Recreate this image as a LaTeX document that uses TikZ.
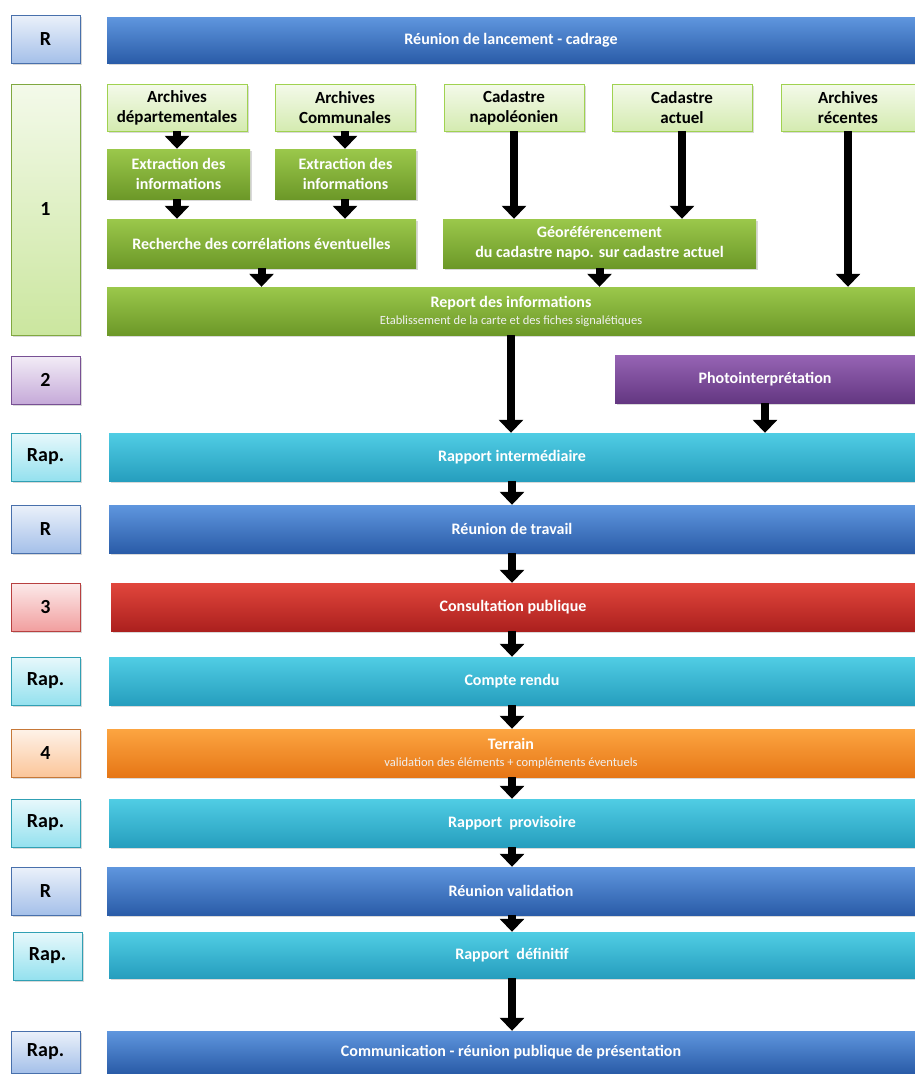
\documentclass[tikz,border=0pt]{standalone}
\usepackage{fontspec}
\setmainfont{Carlito}
\definecolor{bluetop}{RGB}{95,150,222}
\definecolor{bluebot}{RGB}{42,92,168}
\definecolor{tealtop}{RGB}{80,205,228}
\definecolor{tealbot}{RGB}{38,158,190}
\definecolor{greentop}{RGB}{155,200,75}
\definecolor{greenbot}{RGB}{108,152,40}
\definecolor{purpletop}{RGB}{150,100,180}
\definecolor{purplebot}{RGB}{100,55,130}
\definecolor{redtop}{RGB}{225,70,60}
\definecolor{redbot}{RGB}{172,32,30}
\definecolor{orangetop}{RGB}{252,165,65}
\definecolor{orangebot}{RGB}{230,118,22}
\definecolor{lblblue}{RGB}{90,140,215}
\definecolor{lblgreen}{RGB}{160,210,80}
\definecolor{lblviolet}{RGB}{150,100,185}
\definecolor{lblcyan}{RGB}{60,200,225}
\definecolor{lblred}{RGB}{230,80,80}
\definecolor{lblorange}{RGB}{248,150,70}
\usetikzlibrary{arrows.meta, shadows}
\newcommand{\subtxt}[1]{{\normalfont\fontsize{12.5}{14}\selectfont\color{white!88!gray}#1}}

\begin{document}
\begin{tikzpicture}[x=1pt, y=-1pt,
    box/.style={rectangle, inner sep=0pt, align=center, font=\bfseries\fontsize{16}{20}\selectfont,
                text=white, drop shadow={opacity=0.3, shadow xshift=1.5pt, shadow yshift=-1.5pt}},
    bar/.style={box, minimum width=806pt, minimum height=48pt},
    lbl/.style={box, text=black, minimum width=69pt, minimum height=48pt,
                font=\bfseries\fontsize{20}{24}\selectfont, draw=#1!80!black, line width=0.6pt,
                top color=#1!12, bottom color=#1!55},
    blubar/.style={bar, top color=bluetop, bottom color=bluebot},
    tealbar/.style={bar, top color=tealtop, bottom color=tealbot},
    grnbox/.style={box, top color=greentop, bottom color=greenbot},
    srcbox/.style={box, text=black, minimum width=140pt, minimum height=47pt,
                   font=\bfseries\fontsize{17}{20}\selectfont, draw=lblgreen, line width=0.4pt,
                   top color=lblgreen!12, bottom color=lblgreen!45},
    bigarrow/.style={-{Triangle[width=24pt, length=13pt]}, line width=8pt, black}]

    \useasboundingbox (0,0) rectangle (915,1074);

    % Labels on the left
    \node[lbl=lblblue] (lr1) at (45.5,39) {R};
    \node[lbl=lblgreen, minimum height=251pt] (l1) at (45.5,209.5) {1};
    \node[lbl=lblviolet] (l2) at (45.5,380) {2};
    \node[lbl=lblcyan] (lrap1) at (45.5,457) {Rap.};
    \node[lbl=lblblue] (lr2) at (45.5,529) {R};
    \node[lbl=lblred] (l3) at (45.5,607) {3};
    \node[lbl=lblorange] (l4) at (45.5,753) {4};
    \node[lbl=lblcyan] (lrap2) at (45.5,681) {Rap.};
    \node[lbl=lblcyan] (lrap3) at (45.5,823) {Rap.};
    \node[lbl=lblblue] (lr3) at (45.5,891) {R};
    \node[lbl=lblcyan] (lrap4) at (47.5,956) {Rap.};
    \node[lbl=lblblue, minimum height=42pt] (lrap5) at (45.5,1052) {Rap.};

    % Kick-off
    \node[blubar, minimum width=808pt, minimum height=46pt] (lanc) at (511,40) {Réunion de lancement - cadrage};

    % Phase 1 sources
    \node[srcbox] (adep) at (177,107.5) {Archives\\départementales};
    \node[srcbox] (acom) at (345,107.5) {Archives\\Communales};
    \node[srcbox] (cnap) at (514,107.5) {Cadastre\\napoléonien};
    \node[srcbox] (cact) at (682,107.5) {Cadastre\\actuel};
    \node[srcbox, minimum width=134pt] (arec) at (848,107.5) {Archives\\récentes};

    % Phase 1 processing
    \node[grnbox, minimum width=143pt, minimum height=50pt] (ext1) at (178.5,174) {Extraction des\\informations};
    \node[grnbox, minimum width=141pt, minimum height=50pt] (ext2) at (345.5,174) {Extraction des\\informations};
    \node[grnbox, minimum width=309pt, minimum height=49pt] (corr) at (261.5,243.5) {Recherche des corrélations éventuelles};
    \node[grnbox, minimum width=313pt, minimum height=49pt] (geo) at (599.5,243.5) {Géoréférencement\\du cadastre napo. sur cadastre actuel};
    \node[grnbox, minimum width=808pt, minimum height=48pt] (rep) at (511,311)
        {Report des informations\\[-3pt]\subtxt{Etablissement de la carte et des fiches signalétiques}};

    % Phase 2
    \node[box, minimum width=300pt, minimum height=48pt, top color=purpletop, bottom color=purplebot] (photo) at (765,379) {Photointerprétation};

    % Reports and meetings
    \node[tealbar] (rint) at (512,457) {Rapport intermédiaire};
    \node[blubar] (rtrav) at (512,529) {Réunion de travail};
    \node[bar, minimum width=804pt, top color=redtop, bottom color=redbot] (cons) at (513,607) {Consultation publique};
    \node[tealbar] (crendu) at (512,681) {Compte rendu};
    \node[bar, minimum width=808pt, top color=orangetop, bottom color=orangebot] (terr) at (511,753)
        {Terrain\\[-3pt]\subtxt{validation des éléments + compléments éventuels}};
    \node[tealbar] (rprov) at (512,823) {Rapport\ \ provisoire};
    \node[blubar, minimum width=808pt] (rval) at (511,891) {Réunion validation};
    \node[tealbar, minimum height=46pt] (rdef) at (512,955) {Rapport\ \ définitif};
    \node[blubar, minimum width=808pt, minimum height=42pt] (comm) at (511,1052) {Communication - réunion publique de présentation};

    % Arrows phase 1
    \draw[bigarrow] (adep.south) -- (ext1.north -| adep.south);
    \draw[bigarrow] (acom.south) -- (ext2.north -| acom.south);
    \draw[bigarrow] (ext1.south -| adep.south) -- (corr.north -| adep.south);
    \draw[bigarrow] (ext2.south -| acom.south) -- (corr.north -| acom.south);
    \draw[bigarrow] (cnap.south) -- (geo.north -| cnap.south);
    \draw[bigarrow] (cact.south) -- (geo.north -| cact.south);
    \draw[bigarrow] (corr.south) -- (rep.north -| corr.south);
    \draw[bigarrow] (geo.south) -- (rep.north -| geo.south);
    \draw[bigarrow] (arec.south) -- (rep.north -| arec.south);

    % Arrows down the chain
    \draw[bigarrow] (rep.south) -- (rint.north -| rep.south);
    \draw[bigarrow] (photo.south) -- (rint.north -| photo.south);
    \draw[bigarrow] (rint.south) -- (rtrav.north);
    \draw[bigarrow] (rtrav.south) -- (cons.north -| rtrav.south);
    \draw[bigarrow] (cons.south -| rtrav.south) -- (crendu.north);
    \draw[bigarrow] (crendu.south) -- (terr.north -| crendu.south);
    \draw[bigarrow] (terr.south -| crendu.south) -- (rprov.north);
    \draw[bigarrow] (rprov.south) -- (rval.north -| rprov.south);
    \draw[bigarrow] (rval.south -| rprov.south) -- (rdef.north);
    \draw[bigarrow] (rdef.south) -- (comm.north -| rdef.south);
\end{tikzpicture}
\end{document}
